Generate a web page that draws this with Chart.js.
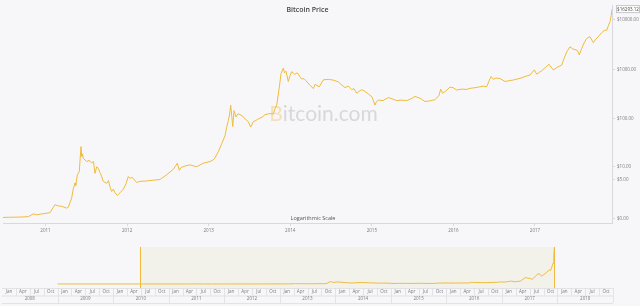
<!DOCTYPE html>
<html>
<head>
<meta charset="utf-8">
<title>Bitcoin Price</title>
<script src="https://cdn.jsdelivr.net/npm/chart.js@4.4.1/dist/chart.umd.min.js"></script>
<style>
  html, body { margin: 0; padding: 0; background: #f7f7f9; }
  #wrap { position: relative; width: 640px; height: 306px; overflow: hidden; }
  #main-chart { position: absolute; left: 0; top: 0; }
  #nav-chart { position: absolute; left: 0; top: 240px; }
</style>
</head>
<body>
<div id="wrap">
  <canvas id="main-chart" width="640" height="240"></canvas>
  <canvas id="nav-chart" width="640" height="66"></canvas>
</div>
<script>
// Dates as decimal years, prices in USD
const years = [
  2010.479, 2010.544, 2010.687, 2010.789, 2010.850, 2010.892, 2010.969, 2011.055, 2011.116, 2011.157,
  2011.202, 2011.260, 2011.280, 2011.321, 2011.341, 2011.362, 2011.370, 2011.390, 2011.414, 2011.435,
  2011.444, 2011.454, 2011.463, 2011.505, 2011.533, 2011.566, 2011.588, 2011.607, 2011.628, 2011.650,
  2011.668, 2011.686, 2011.708, 2011.750, 2011.772, 2011.791, 2011.811, 2011.831, 2011.852, 2011.880,
  2011.913, 2011.954, 2011.987, 2012.015, 2012.036, 2012.060, 2012.118, 2012.158, 2012.241, 2012.318,
  2012.404, 2012.486, 2012.567, 2012.616, 2012.640, 2012.661, 2012.710, 2012.771, 2012.853, 2012.934,
  2013.016, 2013.066, 2013.118, 2013.160, 2013.200, 2013.221, 2013.241, 2013.255, 2013.270, 2013.282,
  2013.295, 2013.311, 2013.335, 2013.360, 2013.384, 2013.415, 2013.445, 2013.486, 2013.515, 2013.547,
  2013.580, 2013.608, 2013.654, 2013.691, 2013.752, 2013.792, 2013.813, 2013.834, 2013.866, 2013.887,
  2013.915, 2013.930, 2013.948, 2013.976, 2013.997, 2014.018, 2014.052, 2014.087, 2014.140, 2014.169,
  2014.193, 2014.242, 2014.283, 2014.304, 2014.356, 2014.405, 2014.467, 2014.524, 2014.589, 2014.635,
  2014.671, 2014.714, 2014.753, 2014.782, 2014.815, 2014.843, 2014.876, 2014.916, 2014.957, 2015.002,
  2015.039, 2015.057, 2015.079, 2015.137, 2015.202, 2015.247, 2015.305, 2015.358, 2015.428, 2015.480,
  2015.529, 2015.591, 2015.652, 2015.713, 2015.775, 2015.824, 2015.844, 2015.869, 2015.909, 2015.958,
  2015.995, 2016.040, 2016.102, 2016.163, 2016.203, 2016.277, 2016.366, 2016.408, 2016.436, 2016.461,
  2016.489, 2016.522, 2016.571, 2016.632, 2016.681, 2016.734, 2016.816, 2016.878, 2016.939, 2016.992,
  2017.021, 2017.082, 2017.129, 2017.172, 2017.225, 2017.270, 2017.328, 2017.356, 2017.389, 2017.429,
  2017.460, 2017.491, 2017.521, 2017.543, 2017.573, 2017.601, 2017.634, 2017.674, 2017.715, 2017.748,
  2017.776, 2017.818, 2017.858, 2017.879, 2017.899, 2017.920, 2017.934, 2017.944
];

const prices = [
  0.05, 0.06, 0.07, 0.09, 0.24, 0.19, 0.25, 0.31, 0.9, 0.8,
  0.75, 0.62, 0.7, 1.6, 3.0, 4.2, 3.6, 6.5, 7.8, 27,
  16.5, 19, 15.3, 13, 13.8, 12.2, 13, 7.1, 10, 9,
  7.4, 6.2, 4.6, 4.1, 4.8, 3.3, 2.5, 2.9, 2.3, 1.9,
  2.3, 2.9, 4.0, 6.0, 5.4, 5.8, 4.3, 4.6, 4.7, 4.9,
  5.1, 6.6, 8.8, 11.9, 8.3, 9.6, 10.4, 11.0, 10.0, 12.0,
  13.0, 14.5, 21, 31, 45, 68, 92, 120, 190, 120,
  70, 147, 110, 128, 122, 115, 100, 88, 68, 88,
  93, 100, 108, 122, 128, 126, 160, 190, 440, 820,
  1060, 850, 920, 570, 750, 900, 800, 850, 640, 650,
  590, 480, 410, 500, 445, 615, 630, 610, 560, 480,
  430, 460, 390, 410, 330, 360, 390, 360, 320, 280,
  190, 225, 240, 235, 270, 255, 235, 240, 235, 255,
  285, 262, 225, 232, 245, 300, 400, 330, 370, 440,
  430, 385, 400, 395, 415, 430, 460, 445, 580, 720,
  630, 670, 655, 570, 590, 612, 660, 720, 770, 980,
  800, 940, 1100, 1270, 970, 1100, 1220, 1650, 2250, 2850,
  2600, 2500, 2400, 1950, 2650, 3400, 4200, 4550, 3450, 4100,
  4550, 5500, 6200, 6100, 7500, 9200, 12000, 16293.12
];

// Axis ticks
const yearTicks = [2011, 2012, 2013, 2014, 2015, 2016, 2017];
const priceTicks = [0, 5, 10, 100, 1000, 10000];
const monthLabels = ['Jan', 'Apr', 'Jul', 'Oct'];
const navYears = [2008, 2009, 2010, 2011, 2012, 2013, 2014, 2015, 2016, 2017, 2018];
const navSeriesStart = 2009.0; // navigator line starts flat at zero here

const GOLD = '#f0bb3c';
const AXIS = '#d8d8de';
const TEXT = '#7a7a80';
const FONT = '"Open Sans", sans-serif';

const lastIdx = prices.length - 1;

// Title, watermark and last price tag for the main chart
const mainDecor = {
    id: 'mainDecor',
    beforeDatasetsDraw(chart) {
        const ctx = chart.ctx;
        const area = chart.chartArea;
        const cx = (area.left + area.right) / 2;
        ctx.save();
        ctx.font = '21px Lato, sans-serif';
        ctx.textBaseline = 'alphabetic';
        const wB = ctx.measureText('B').width;
        const wRest = ctx.measureText('itcoin.com').width;
        const x0 = cx + 16 - (wB + wRest) / 2;
        ctx.fillStyle = 'rgba(240, 190, 90, 0.4)';
        ctx.fillText('B', x0, 121);
        ctx.fillStyle = '#d8d8dc';
        ctx.fillText('itcoin.com', x0 + wB, 121);
        ctx.restore();
    },
    afterDraw(chart) {
        const ctx = chart.ctx;
        const area = chart.chartArea;
        const cx = (area.left + area.right) / 2;
        ctx.save();
        ctx.textAlign = 'center';
        ctx.textBaseline = 'middle';
        ctx.fillStyle = '#444';
        ctx.font = '600 7px ' + FONT;
        ctx.fillText('Bitcoin Price', cx, 10);
        ctx.fillStyle = '#555';
        ctx.font = '5.5px ' + FONT;
        ctx.fillText('Logarithmic Scale', cx + 5.5, 218.5);

        // current price tag on the right axis
        const yScale = chart.scales.y;
        const py = yScale.getPixelForValue(prices[lastIdx] + 1);
        const bx = yScale.left + 4;
        const bw = 23, bh = 7;
        ctx.fillStyle = '#ffffff';
        ctx.fillRect(bx, py - bh / 2, bw, bh);
        ctx.strokeStyle = '#b8b8be';
        ctx.lineWidth = 0.8;
        ctx.strokeRect(bx + 0.5, py - bh / 2, bw, bh);
        ctx.fillStyle = '#444';
        ctx.font = '4.5px ' + FONT;
        ctx.fillText('$' + prices[lastIdx].toFixed(2), bx + bw / 2 + 0.5, py + 0.3);
        ctx.restore();
    }
};

const mainChart = new Chart(document.getElementById('main-chart'), {
    type: 'line',
    data: {
        datasets: [{
            label: 'Bitcoin Price',
            data: years.map((x, i) => ({ x: x, y: prices[i] + 1 })),
            borderColor: GOLD,
            borderWidth: 1,
            pointRadius: 0,
            tension: 0,
            fill: false
        }]
    },
    options: {
        responsive: false,
        animation: false,
        layout: { padding: { left: 3, top: 5, right: 0, bottom: 0 } },
        plugins: {
            legend: { display: false },
            tooltip: { enabled: false }
        },
        scales: {
            x: {
                type: 'linear',
                min: years[0],
                max: years[lastIdx],
                afterBuildTicks: s => { s.ticks = yearTicks.map(v => ({ value: v })); },
                afterFit: s => { s.height = 17; },
                grid: { drawOnChartArea: false, color: AXIS, tickLength: 3 },
                border: { color: AXIS },
                ticks: {
                    color: TEXT,
                    font: { size: 4.5, family: FONT },
                    padding: 2,
                    maxRotation: 0,
                    autoSkip: false,
                    callback: v => String(v)
                }
            },
            y: {
                type: 'logarithmic',
                position: 'right',
                min: Math.pow(10, -0.09),
                max: Math.pow(10, 4.2958),
                afterBuildTicks: s => { s.ticks = priceTicks.map(v => ({ value: v + 1 })); },
                afterFit: s => { s.width = 28; },
                grid: { drawOnChartArea: false, color: AXIS, tickLength: 3 },
                border: { color: AXIS },
                ticks: {
                    color: TEXT,
                    font: { size: 4.5, family: FONT },
                    padding: 2,
                    autoSkip: false,
                    callback: v => '$' + (v - 1).toFixed(2)
                }
            }
        }
    },
    plugins: [mainDecor]
});

// Navigator: selection band, handles and month / year table
const navDecor = {
    id: 'navDecor',
    beforeDatasetsDraw(chart) {
        const ctx = chart.ctx;
        const area = chart.chartArea;
        const xs = chart.scales.x;
        const x1 = xs.getPixelForValue(years[0]);
        const x2 = xs.getPixelForValue(years[lastIdx]);
        ctx.save();
        ctx.fillStyle = '#f3f2ea';
        ctx.fillRect(x1, area.top, x2 - x1, area.bottom - area.top);
        ctx.restore();
    },
    afterDatasetsDraw(chart) {
        const ctx = chart.ctx;
        const area = chart.chartArea;
        const xs = chart.scales.x;
        ctx.save();
        ctx.strokeStyle = GOLD;
        ctx.lineWidth = 1;
        [years[0], years[lastIdx]].forEach(v => {
            const x = Math.round(xs.getPixelForValue(v)) + 0.5;
            ctx.beginPath();
            ctx.moveTo(x, area.top);
            ctx.lineTo(x, area.bottom);
            ctx.stroke();
        });
        ctx.restore();
    },
    afterDraw(chart) {
        const ctx = chart.ctx;
        const area = chart.chartArea;
        const xs = chart.scales.x;
        const rowTop = area.bottom;
        const rowMid = rowTop + 7.5;
        const rowBot = rowMid + 7.5;
        ctx.save();
        ctx.strokeStyle = '#dcdce2';
        ctx.lineWidth = 0.8;
        [rowTop, rowMid, rowBot].forEach(y => {
            ctx.beginPath();
            ctx.moveTo(area.left, y + 0.5);
            ctx.lineTo(area.right, y + 0.5);
            ctx.stroke();
        });
        ctx.fillStyle = TEXT;
        ctx.font = '4.5px ' + FONT;
        ctx.textAlign = 'center';
        ctx.textBaseline = 'middle';
        navYears.forEach(yr => {
            monthLabels.forEach((m, q) => {
                const a = xs.getPixelForValue(yr + q * 0.25);
                const b = xs.getPixelForValue(yr + (q + 1) * 0.25);
                ctx.beginPath();
                ctx.moveTo(Math.round(b) + 0.5, rowTop);
                ctx.lineTo(Math.round(b) + 0.5, rowMid);
                ctx.stroke();
                ctx.fillText(m, (a + b) / 2, rowTop + 4);
            });
            const ya = xs.getPixelForValue(yr);
            const yb = xs.getPixelForValue(yr + 1);
            ctx.beginPath();
            ctx.moveTo(Math.round(yb) + 0.5, rowMid);
            ctx.lineTo(Math.round(yb) + 0.5, rowBot);
            ctx.stroke();
            ctx.fillText(String(yr), (ya + yb) / 2, rowMid + 3.5);
        });
        ctx.restore();
    }
};

const navChart = new Chart(document.getElementById('nav-chart'), {
    type: 'line',
    data: {
        datasets: [{
            label: 'Navigator',
            data: [{ x: navSeriesStart, y: 0 }].concat(years.map((x, i) => ({ x: x, y: prices[i] }))),
            borderColor: GOLD,
            borderWidth: 1,
            pointRadius: 0,
            tension: 0,
            fill: false
        }]
    },
    options: {
        responsive: false,
        animation: false,
        layout: { padding: { left: 2, right: 27, top: 7, bottom: 18 } },
        plugins: {
            legend: { display: false },
            tooltip: { enabled: false }
        },
        scales: {
            x: { type: 'linear', display: false, min: 2008, max: 2019 },
            y: { type: 'linear', display: false, min: -1800, max: 16400 }
        }
    },
    plugins: [navDecor]
});
</script>
</body>
</html>
